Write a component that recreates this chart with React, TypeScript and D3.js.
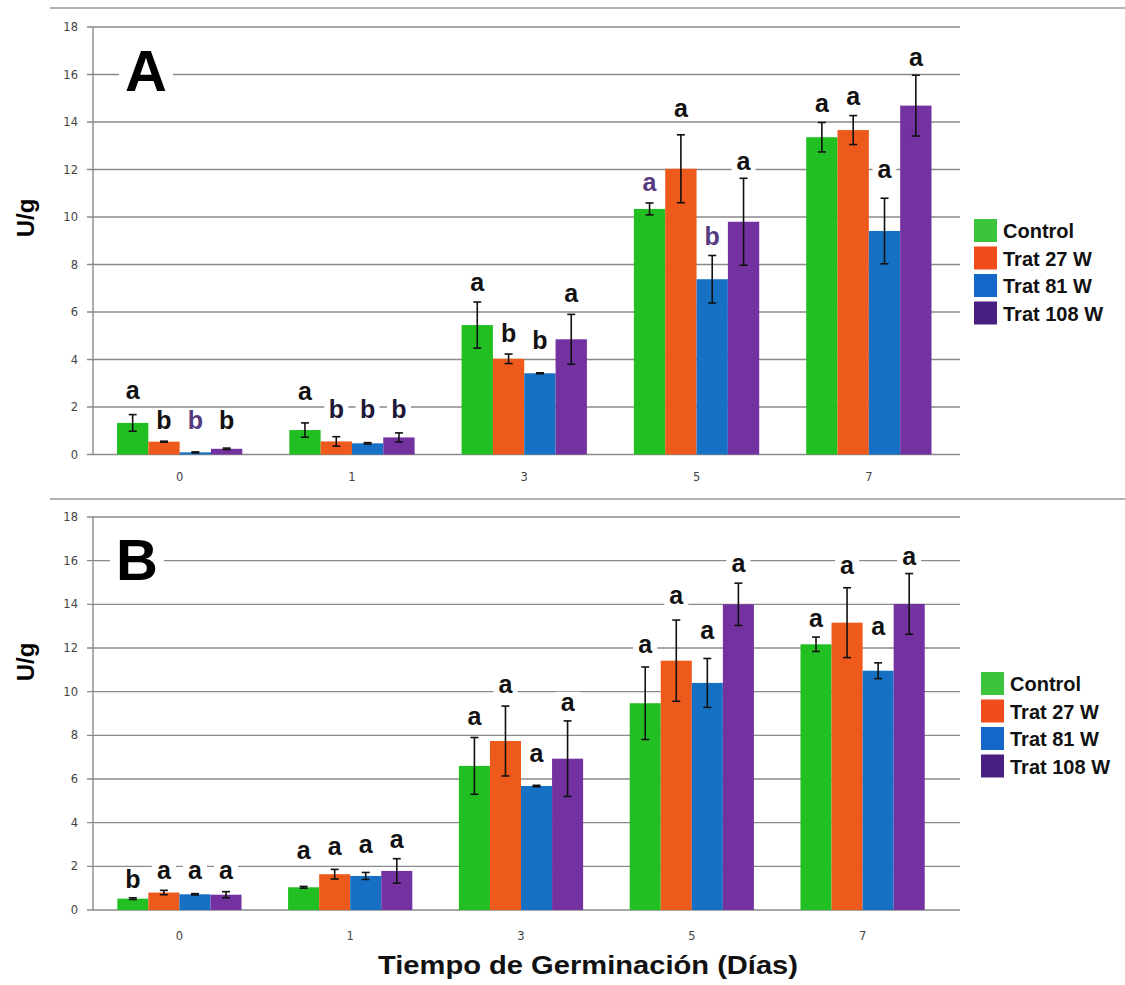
import React, { useEffect, useRef } from 'react'
import * as d3 from 'd3'

const days = ['0', '1', '3', '5', '7']
const seriesNames = ['Control', 'Trat 27 W', 'Trat 81 W', 'Trat 108 W']
const yTicks = [0, 2, 4, 6, 8, 10, 12, 14, 16, 18]

// Panel A: means, errors, significance letters and letter heights (U/g)
const meanA = [
  [1.33, 1.03, 5.45, 10.34, 13.36],
  [0.54, 0.55, 4.03, 12.03, 13.66],
  [0.09, 0.47, 3.42, 7.38, 9.41],
  [0.24, 0.72, 4.85, 9.8, 14.69],
]
const errA = [
  [0.35, 0.3, 0.97, 0.25, 0.62],
  [0.02, 0.2, 0.2, 1.43, 0.61],
  [0.02, 0.03, 0.02, 1.0, 1.38],
  [0.03, 0.19, 1.05, 1.83, 1.28],
]
const lettersA = [
  ['a', 'a', 'a', 'a', 'a'],
  ['b', 'b', 'b', 'a', 'a'],
  ['b', 'b', 'b', 'b', 'a'],
  ['b', 'b', 'a', 'a', 'a'],
]
const letterAtA = [
  [2.34, 2.3, 6.9, 11.1, 14.43],
  [1.07, 1.52, 4.75, 14.2, 14.7],
  [1.07, 1.52, 4.43, 8.82, 11.63],
  [1.07, 1.52, 6.43, 12.0, 16.36],
]
const letterTintA = [
  [0, 0, 0, 1, 0],
  [0, 2, 0, 0, 0],
  [1, 2, 0, 1, 0],
  [0, 2, 0, 0, 0],
]

// Panel B
const meanB = [
  [0.52, 1.04, 6.6, 9.47, 12.17],
  [0.8, 1.64, 7.74, 11.42, 13.16],
  [0.72, 1.56, 5.68, 10.4, 10.96],
  [0.7, 1.79, 6.93, 14.0, 14.02],
]
const errB = [
  [0.04, 0.04, 1.3, 1.66, 0.33],
  [0.1, 0.22, 1.6, 1.86, 1.6],
  [0.03, 0.16, 0.03, 1.12, 0.36],
  [0.14, 0.56, 1.73, 0.97, 1.39],
]
const lettersB = [
  ['b', 'a', 'a', 'a', 'a'],
  ['a', 'a', 'a', 'a', 'a'],
  ['a', 'a', 'a', 'a', 'a'],
  ['a', 'a', 'a', 'a', 'a'],
]
const letterAtB = [
  [1.0, 2.35, 8.47, 11.76, 12.98],
  [1.41, 2.52, 9.96, 14.02, 15.37],
  [1.41, 2.6, 6.8, 12.41, 12.6],
  [1.41, 2.83, 9.12, 15.46, 15.8],
]

const barColors = ['#22bf22', '#ee5a1c', '#1670c4', '#7431a0']
const legendColors = ['#3cc43c', '#f04c1c', '#1466c8', '#4a1f82']
const tintColors = ['#111', '#563a80', '#1e1838']

const FONT = '"Liberation Sans", Arial, sans-serif'
const TICK_FONT = '"DejaVu Sans", Verdana, sans-serif'

interface PanelCfg {
  tag: string
  tagX: number
  tagY: number
  yTop: number
  yBottom: number
  xRange: [number, number]
  mean: number[][]
  err: number[][]
  letters: string[][]
  letterAt: number[][]
  tint?: number[][]
  legendX: number
  legendY: number
  yLabelY: number
  xLabelY: number
}

function drawPanel(svg: d3.Selection<SVGSVGElement, unknown, null, undefined>, c: PanelCfg) {
  const g = svg.append('g')
  const y = d3.scaleLinear().domain([0, 18]).range([c.yBottom, c.yTop])
  const x = d3.scaleBand<string>().domain(days).range(c.xRange).padding(0)
  const xs = d3.scaleBand<string>().domain(seriesNames).range([0, x.bandwidth()]).paddingInner(0).paddingOuter(0.75)
  const axisX = 93
  const gridRight = 960

  // grid lines + tick marks
  g.selectAll('line.grid').data(yTicks).enter().append('line')
    .attr('x1', axisX - 6).attr('x2', gridRight)
    .attr('y1', d => y(d)).attr('y2', d => y(d))
    .attr('stroke', '#8a8a8a').attr('stroke-width', 1.4)

  g.append('line')
    .attr('x1', axisX).attr('x2', axisX)
    .attr('y1', y(18)).attr('y2', y(0))
    .attr('stroke', '#8a8a8a').attr('stroke-width', 1.4)

  g.selectAll('text.ytick').data(yTicks).enter().append('text')
    .attr('x', axisX - 15).attr('y', d => y(d)).attr('dy', '0.36em')
    .attr('text-anchor', 'end')
    .style('font-family', TICK_FONT).style('font-size', '11.5px').attr('fill', '#444')
    .text(d => d)

  g.selectAll('text.xtick').data(days).enter().append('text')
    .attr('x', d => (x(d) || 0) + x.bandwidth() / 2).attr('y', c.xLabelY)
    .attr('text-anchor', 'middle')
    .style('font-family', TICK_FONT).style('font-size', '11.5px').attr('fill', '#444')
    .text(d => d)

  // panel tag with white backdrop
  g.append('rect').attr('x', c.tagX - 27).attr('y', c.tagY - 45).attr('width', 54).attr('height', 50).attr('fill', '#fff')
  g.append('text')
    .attr('x', c.tagX).attr('y', c.tagY).attr('text-anchor', 'middle')
    .style('font-family', FONT).style('font-weight', 'bold').style('font-size', '58px').attr('fill', '#000')
    .text(c.tag)

  const cells = seriesNames.flatMap((s, si) => days.map((d, di) => ({
    s, si, d, di,
    v: c.mean[si][di], e: c.err[si][di],
    letter: c.letters[si][di], at: c.letterAt[si][di],
    tint: c.tint ? c.tint[si][di] : 0,
  })))
  const cx = (p: { s: string; d: string }) => (x(p.d) || 0) + (xs(p.s) || 0) + xs.bandwidth() / 2

  // letter backdrops break the grid lines
  g.selectAll('rect.lbg').data(cells).enter().append('rect')
    .attr('x', p => cx(p) - 12).attr('y', p => y(p.at) - 19)
    .attr('width', 24).attr('height', 22).attr('fill', '#fff')

  g.selectAll('rect.bar').data(cells).enter().append('rect')
    .attr('x', p => (x(p.d) || 0) + (xs(p.s) || 0))
    .attr('y', p => y(p.v))
    .attr('width', xs.bandwidth())
    .attr('height', p => y(0) - y(p.v))
    .attr('fill', p => barColors[p.si])

  const eb = g.selectAll('g.err').data(cells).enter().append('g')
    .attr('stroke', '#111').attr('stroke-width', 1.6)
  eb.append('line')
    .attr('x1', cx).attr('x2', cx)
    .attr('y1', p => y(p.v + p.e)).attr('y2', p => y(p.v - p.e))
  eb.append('line')
    .attr('x1', p => cx(p) - 4).attr('x2', p => cx(p) + 4)
    .attr('y1', p => y(p.v + p.e)).attr('y2', p => y(p.v + p.e))
  eb.append('line')
    .attr('x1', p => cx(p) - 4).attr('x2', p => cx(p) + 4)
    .attr('y1', p => y(p.v - p.e)).attr('y2', p => y(p.v - p.e))

  g.selectAll('text.letter').data(cells).enter().append('text')
    .attr('x', cx).attr('y', p => y(p.at))
    .attr('text-anchor', 'middle')
    .style('font-family', FONT).style('font-weight', 'bold').style('font-size', '25px')
    .attr('fill', p => tintColors[p.tint])
    .text(p => p.letter)

  // y label
  g.append('text')
    .attr('transform', `translate(34,${c.yLabelY}) rotate(-90)`)
    .attr('text-anchor', 'middle')
    .style('font-family', FONT).style('font-weight', 'bold').style('font-size', '24px').attr('fill', '#000')
    .text('U/g')

  // legend
  const lg = g.append('g').attr('transform', `translate(${c.legendX},${c.legendY})`)
  seriesNames.forEach((s, i) => {
    lg.append('rect').attr('x', 0).attr('y', i * 27.5).attr('width', 23).attr('height', 23).attr('fill', legendColors[i])
    lg.append('text').attr('x', 29).attr('y', i * 27.5 + 19)
      .style('font-family', FONT).style('font-weight', 'bold').style('font-size', '20px').attr('fill', '#111')
      .text(s)
  })
}

export default function App() {
  const svgRef = useRef<SVGSVGElement>(null)

  useEffect(() => {
    if (!svgRef.current) return
    const svg = d3.select(svgRef.current)
    svg.selectAll('*').remove()

    svg.append('rect').attr('width', 1125).attr('height', 985).attr('fill', '#fff')

    // frame lines
    svg.append('line').attr('x1', 50).attr('x2', 1125).attr('y1', 8).attr('y2', 8).attr('stroke', '#999').attr('stroke-width', 1.4)
    svg.append('line').attr('x1', 50).attr('x2', 1125).attr('y1', 499).attr('y2', 499).attr('stroke', '#999').attr('stroke-width', 1.4)

    drawPanel(svg, {
      tag: 'A', tagX: 146, tagY: 91, yTop: 27, yBottom: 454.5, xRange: [93.5, 955],
      mean: meanA, err: errA, letters: lettersA, letterAt: letterAtA, tint: letterTintA,
      legendX: 974, legendY: 219, yLabelY: 218, xLabelY: 481,
    })
    drawPanel(svg, {
      tag: 'B', tagX: 137, tagY: 580, yTop: 517, yBottom: 910, xRange: [94, 948],
      mean: meanB, err: errB, letters: lettersB, letterAt: letterAtB,
      legendX: 981, legendY: 672, yLabelY: 662, xLabelY: 940,
    })

    svg.append('text')
      .attr('x', 588).attr('y', 974).attr('text-anchor', 'middle')
      .attr('textLength', 420).attr('lengthAdjust', 'spacingAndGlyphs')
      .style('font-family', FONT).style('font-weight', 'bold').style('font-size', '25px').attr('fill', '#111')
      .text('Tiempo de Germinación (Días)')
  }, [])

  return (
    <svg ref={svgRef} width={1125} height={985} style={{ position: 'absolute', left: 0, top: 0 }} />
  )
}
